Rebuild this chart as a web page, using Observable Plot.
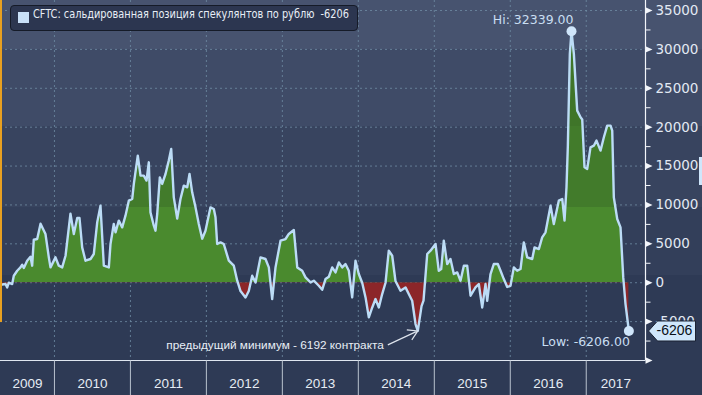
<!DOCTYPE html>
<html>
<head>
<meta charset="utf-8">
<script src="https://cdn.jsdelivr.net/npm/d3@7"></script>
<script src="https://cdn.jsdelivr.net/npm/@observablehq/plot@0.6"></script>
<style>
html, body { margin: 0; padding: 0; background: #2e3a55; }
#wrap {
  position: relative; width: 702px; height: 395px; overflow: hidden;
  background: linear-gradient(to bottom,
    #47536f 0px, #47536f 49px,
    #3f4b67 49px, #3f4b67 126px,
    #38445f 126px, #38445f 207px,
    #333f5a 207px, #333f5a 275px,
    #2e3a55 275px, #2e3a55 395px);
}
#chart { position: absolute; left: 0; top: 0; }
#legend {
  position: absolute; left: 10px; top: 5px; width: 348px; height: 26px;
  box-sizing: border-box; background: #2c3650; border: 1px solid #151b28;
  border-radius: 4px; color: #e8eef6; overflow: hidden;
}
#legend .sw { position: absolute; left: 7px; top: 6px; width: 11px; height: 11px; background: #c8e0f8; }
#legend .tx {
  position: absolute; left: 22px; top: 0; line-height: 24px; white-space: pre;
  font: 12.5px "DejaVu Sans Condensed", "Liberation Sans", sans-serif;
  transform-origin: 0 50%; display: inline-block;
}
#orange { position: absolute; left: 0; top: 0; width: 2px; height: 322px; background: #e8a020; }
#tab { position: absolute; left: 699px; top: 157px; width: 3px; height: 28px; background: #cfe6fb; }
</style>
</head>
<body>
<div id="wrap">
  <div id="chart"></div>
  <div id="orange"></div>
  <div id="tab"></div>
  <div id="legend"><div class="sw"></div><span class="tx"></span></div>
</div>
<script>
// ---- data (decimal years, net speculative position in contracts) ----
const years = [
2009.290,2009.356,2009.378,2009.399,2009.444,2009.465,2009.510,2009.553,2009.576,2009.597,
2009.641,2009.685,2009.707,2009.728,2009.773,2009.817,2009.882,2009.926,2009.948,2010.014,
2010.057,2010.102,2010.146,2010.211,2010.255,2010.300,2010.330,2010.365,2010.409,2010.475,
2010.518,2010.563,2010.606,2010.650,2010.716,2010.738,2010.781,2010.804,2010.847,2010.892,
2010.935,2010.979,2011.024,2011.045,2011.097,2011.133,2011.176,2011.212,2011.242,2011.264,
2011.308,2011.330,2011.353,2011.387,2011.418,2011.462,2011.505,2011.537,2011.571,2011.616,
2011.659,2011.703,2011.748,2011.778,2011.813,2011.857,2011.900,2011.945,2011.988,2012.054,
2012.098,2012.120,2012.142,2012.186,2012.229,2012.295,2012.361,2012.406,2012.449,2012.515,
2012.558,2012.603,2012.647,2012.712,2012.778,2012.822,2012.866,2012.910,2012.976,2013.042,
2013.085,2013.151,2013.196,2013.261,2013.305,2013.371,2013.414,2013.480,2013.525,2013.568,
2013.612,2013.656,2013.700,2013.743,2013.788,2013.831,2013.875,2013.919,2013.963,2014.006,
2014.051,2014.095,2014.138,2014.183,2014.226,2014.270,2014.314,2014.358,2014.401,2014.446,
2014.489,2014.555,2014.621,2014.664,2014.709,2014.753,2014.783,2014.832,2014.858,2014.907,
2014.950,2015.016,2015.059,2015.091,2015.125,2015.170,2015.213,2015.257,2015.302,2015.345,
2015.389,2015.433,2015.477,2015.542,2015.586,2015.631,2015.674,2015.696,2015.740,2015.783,
2015.836,2015.872,2015.915,2015.960,2016.003,2016.047,2016.091,2016.135,2016.178,2016.223,
2016.289,2016.319,2016.376,2016.420,2016.464,2016.530,2016.573,2016.639,2016.684,2016.714,
2016.740,2016.758,2016.784,2016.806,2016.837,2016.881,2016.925,2016.947,2016.977,2017.013,
2017.056,2017.100,2017.135,2017.188,2017.232,2017.276,2017.320,2017.342,2017.363,2017.408,
2017.451,2017.487,2017.517,2017.561
];
const values = [
-260,-170,-600,0,-170,900,1540,1970,2320,1890,
2830,3350,2190,5530,5620,7590,6270,3260,1970,3260,
2190,1970,3470,8880,6270,8320,8320,4540,2830,3050,
3690,7760,9910,2190,1970,4980,7550,6480,7980,7120,
8620,10550,10770,12700,16340,13770,13770,13130,15480,9050,
7330,6690,8840,13550,12700,13980,15700,17200,10980,8240,
10770,12480,12270,13980,11620,9690,7550,5660,6690,9690,
9480,8410,4980,5190,4980,2830,2190,260,-1070,-1890,
-1070,900,40,3260,3050,1970,-2100,1970,5400,5620,
6270,6780,1970,1540,690,40,260,-390,-900,470,
770,1970,1330,2600,1970,2400,1540,-1890,2830,1120,
0,-1890,-4460,-3180,-2100,-3180,-1460,0,4120,3470,
220,-1030,-600,-1460,-2320,-5310,-6192,-3000,-2300,3690,
4120,4980,1540,1760,5400,2400,3050,1120,1330,260,
2190,2190,-1670,-600,-170,-3180,-170,-2320,1120,2400,
2400,1540,470,-550,-390,1970,1540,1760,5190,3260,
3050,4540,4330,5830,6480,9910,7550,10550,10770,7980,
12260,17630,29430,32339,29430,22130,21270,21000,14840,14630,
17410,17620,18270,16990,18700,20200,20200,19560,10980,8200,
7120,680,-2740,-6206
];
const seriesName = "CFTC: сальдированная позиция спекулянтов по рублю";
const yearBoundaries = [2010, 2011, 2012, 2013, 2014, 2015, 2016, 2017];
const yearLabels = ["2009", "2010", "2011", "2012", "2013", "2014", "2015", "2016", "2017"];
const yTickValues = [-5000, 0, 5000, 10000, 15000, 20000, 25000, 30000, 35000];
const yMinorValues = [-10000, -7500, -2500, 2500, 7500, 12500, 17500, 22500, 27500, 32500];
const annotationText = "предыдущий минимум - 6192 контракта";
const xDomain = [2009.29, 2017.78];
const yDomain = [-10000, 36287];

// ---- derived ----
const data = years.map((t, i) => ({t, v: values[i]}));
const hi = d3.greatest(data, d => d.v);
const last = data[data.length - 1];
const prevMin = d3.least(data.filter(d => d.t < 2016), d => d.v);
const labelPos = yearLabels.map(l => {
  const y = +l;
  return (Math.max(y, xDomain[0]) + Math.min(y + 1, xDomain[1])) / 2;
});

const F = "'DejaVu Sans', sans-serif";
const FL = "'Liberation Sans', Arial, sans-serif";

const triRight = {draw(ctx) { ctx.moveTo(0, -3.2); ctx.lineTo(7, 0); ctx.lineTo(0, 3.2); ctx.closePath(); }};
const minorTick = {draw(ctx) { ctx.moveTo(0, 0); ctx.lineTo(5, 0); }};
const tagShape = {draw(ctx) { ctx.moveTo(3, 0); ctx.lineTo(12, -10); ctx.lineTo(50, -10); ctx.lineTo(50, 10); ctx.lineTo(12, 10); ctx.closePath(); }};
const arrowShape = {draw(ctx) {
  ctx.moveTo(-30, 14); ctx.lineTo(0, 0);
  ctx.moveTo(-11, -1); ctx.lineTo(0, 0); ctx.lineTo(-6, 9);
}};

const chart = Plot.plot({
  width: 702, height: 395,
  marginTop: 0, marginRight: 57, marginBottom: 35, marginLeft: 0,
  style: {background: "transparent", color: "#e0e8f2", fontFamily: F, overflow: "visible"},
  x: {type: "linear", domain: xDomain, label: null},
  y: {domain: yDomain, label: null},
  marks: [
    Plot.ruleY(yTickValues, {stroke: "#6f8ca4", strokeOpacity: 0.8, strokeDasharray: "2,3"}),
    Plot.ruleX(yearBoundaries, {stroke: "#6f8ca4", strokeOpacity: 0.8, strokeDasharray: "2,3"}),
    Plot.areaY(data, {x: "t", y1: 0, y2: "v", fill: "#4a8a2e"}),
    Plot.areaY(data, {x: "t", y1: 0, y2: "v", fill: "#8c2629"}),
    Plot.lineY(data, {x: "t", y: "v", stroke: "#bcdcf6", strokeWidth: 2.4, curve: "linear"}),
    Plot.ruleX([xDomain[1]], {stroke: "#f2f5fa", strokeWidth: 1.2}),
    Plot.ruleY([yDomain[0]], {stroke: "#dfe6f0", strokeWidth: 1}),
    Plot.dot(yTickValues.concat([-10000]), {y: d => d, frameAnchor: "right", symbol: triRight, fill: "#f2f5fa", stroke: "none"}),
    Plot.dot(yMinorValues, {y: d => d, frameAnchor: "right", symbol: minorTick, stroke: "#f2f5fa", fill: "none", strokeWidth: 1}),
    Plot.axisY(yTickValues, {anchor: "right", label: null, tickSize: 0, tickPadding: 10, tickFormat: d => String(d),
      fontSize: 13.5, fontFamily: F, fill: "#e2e9f3"}),
    Plot.axisX(yearBoundaries, {anchor: "bottom", label: null, tickSize: 35, tickFormat: () => "", stroke: "#c8d0dc", strokeOpacity: 0.9}),
    Plot.axisX(labelPos, {anchor: "bottom", label: null, tickSize: 0, tickPadding: 18, tickFormat: (d, i) => yearLabels[i],
      fontSize: 13.5, fontFamily: FL, fill: "#e6ecf4"}),
    Plot.dot([hi, last], {x: "t", y: "v", r: 5, fill: "#cfe5fa", stroke: "none"}),
    Plot.text([hi], {x: "t", y: "v", text: d => "Hi: " + d.v.toFixed(2), textAnchor: "end", dx: 2, dy: -11,
      fill: "#c9def2", fontSize: 12.5, fontFamily: F}),
    Plot.text([last], {x: "t", y: "v", text: d => "Low: " + d.v.toFixed(2), textAnchor: "end", dx: 1, dy: 11,
      fill: "#c9def2", fontSize: 12.5, fontFamily: F}),
    Plot.dot([prevMin], {x: "t", y: "v", symbol: arrowShape, fill: "none", stroke: "#dde3ec", strokeWidth: 1.2}),
    Plot.text([prevMin], {x: "t", y: "v", text: () => annotationText, textAnchor: "end", dx: -34, dy: 14,
      fill: "#e8eef6", fontSize: 11.8, fontFamily: FL}),
    Plot.dot([last], {y: "v", frameAnchor: "right", symbol: tagShape, fill: "#cfe6fb", stroke: "#1b2233", strokeWidth: 1}),
    Plot.text([last], {y: "v", frameAnchor: "right", text: d => String(d.v), textAnchor: "start", dx: 11,
      fill: "#0a0f18", fontSize: 14, fontFamily: FL})
  ]
});

// split fill above/below zero with clip paths; banded green shading
const svg = d3.select(chart);
const y0 = chart.scale("y").apply(0);
const defs = svg.insert("defs", ":first-child");
defs.append("clipPath").attr("id", "clipPos").append("rect")
  .attr("x", 0).attr("y", 0).attr("width", 702).attr("height", y0);
defs.append("clipPath").attr("id", "clipNeg").append("rect")
  .attr("x", 0).attr("y", y0).attr("width", 702).attr("height", 395 - y0);
const g = defs.append("linearGradient").attr("id", "gGreen").attr("gradientUnits", "userSpaceOnUse")
  .attr("x1", 0).attr("x2", 0).attr("y1", 0).attr("y2", 395);
[[0, "#3f7529"], [126 / 395, "#3f7529"], [126 / 395, "#427b2b"], [207 / 395, "#427b2b"], [207 / 395, "#4a8a2e"], [1, "#4a8a2e"]]
  .forEach(([o, c]) => g.append("stop").attr("offset", o).attr("stop-color", c));
const areas = svg.selectAll('g[aria-label="area"]').nodes();
if (areas.length >= 2) {
  d3.select(areas[0]).attr("clip-path", "url(#clipPos)").attr("fill", "url(#gGreen)");
  d3.select(areas[1]).attr("clip-path", "url(#clipNeg)");
}
document.getElementById("chart").appendChild(chart);

// legend text, fitted to the reference width
const tx = document.querySelector("#legend .tx");
tx.textContent = seriesName + "  " + last.v;
const w = tx.getBoundingClientRect().width;
if (w > 0) tx.style.transform = "scaleX(" + (316 / w) + ")";
</script>
</body>
</html>
